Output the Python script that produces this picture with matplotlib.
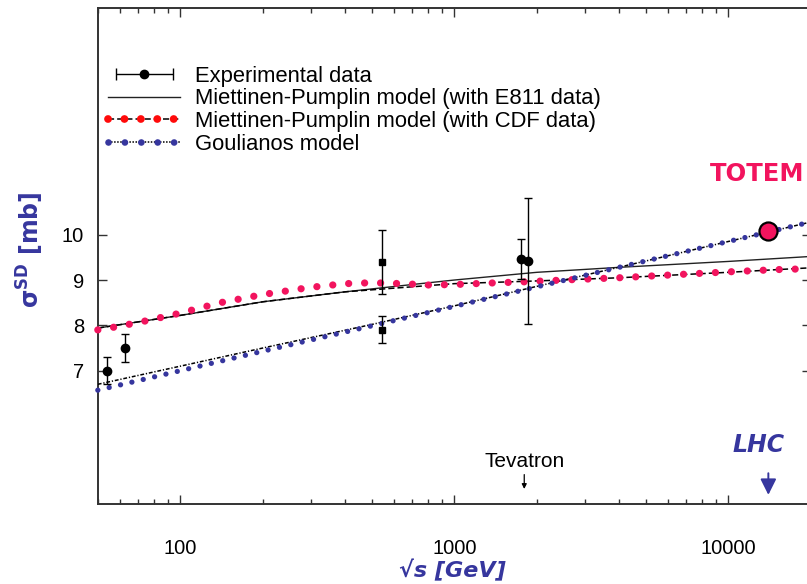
import numpy as np
import matplotlib.pyplot as plt
from matplotlib.lines import Line2D
from matplotlib.container import ErrorbarContainer
from matplotlib.legend_handler import HandlerErrorbar
from matplotlib.ticker import LogLocator, NullFormatter, NullLocator

plt.rcParams['font.family'] = ['Liberation Sans', 'DejaVu Sans']

# experimental single diffractive cross sections
exp_sqrts = [54, 63, 546, 546, 1750, 1860]
exp_sigma = [7.0, 7.5, 7.9, 9.4, 9.46, 9.42]
exp_err = [0.3, 0.3, 0.3, 0.7, 0.44, 1.4]
exp_marker = ['o', 'o', 's', 's', 'o', 'o']

totem_sqrts = [14000]
totem_sigma = [10.08]

# Miettinen-Pumplin model, E811 normalisation (solid line)
mp_e811_sqrts = [50, 100, 200, 400, 700, 1000, 2000, 4000, 10000, 20000]
mp_e811_sigma = [7.94, 8.22, 8.52, 8.74, 8.90, 9.00, 9.17, 9.28, 9.41, 9.52]

# Miettinen-Pumplin model, CDF normalisation (dashed line + dots)
mp_cdf_sqrts = [50, 100, 200, 400, 700, 1000, 2000, 4000, 10000, 20000]
mp_cdf_sigma = [7.94, 8.22, 8.52, 8.74, 8.85, 8.92, 8.98, 9.05, 9.17, 9.27]
cdf_dots_sqrts = [50, 60, 75, 100, 140, 200, 300, 400, 500, 650, 800, 1000,
                  1300, 1800, 2500, 4000, 7000, 10000, 15000, 20000]
cdf_dots_sigma = [7.90, 7.98, 8.10, 8.27, 8.50, 8.68, 8.84, 8.92, 8.94, 8.92,
                  8.89, 8.90, 8.93, 8.96, 9.00, 9.05, 9.13, 9.18, 9.23, 9.25]

# Goulianos model (dotted line + dots)
goul_sqrts = [50, 100, 200, 500, 1000, 2000, 5000, 10000, 20000]
goul_line_sigma = [6.70, 7.10, 7.50, 8.02, 8.43, 8.86, 9.42, 9.85, 10.28]
goul_dots_sigma = [6.57, 7.00, 7.43, 7.99, 8.42, 8.85, 9.42, 9.85, 10.28]

pink = '#F2145E'
blue = '#36369E'
dot_pink = dict(lw=5.2, ls=(0, (0.01, 2.2)), dash_capstyle='round')
dot_blue = dict(lw=3.8, ls=(0, (0.01, 2.2)), dash_capstyle='round')
leg_pink = dict(lw=5.6, ls=(0, (0.01, 2.1)), dash_capstyle='round')
leg_blue = dict(lw=4.8, ls=(0, (0.01, 2.45)), dash_capstyle='round')
dash_k = (0, (4, 2))
dotted_k = (0, (2.5, 1.2, 0.8, 1.2))

fig = plt.figure(figsize=(8.07, 5.84), dpi=100)
ax = fig.add_axes([0.1212, 0.137, 0.8835, 0.8493])

ax.plot(mp_e811_sqrts, mp_e811_sigma, color='#222222', lw=1.0, zorder=3)
ax.plot(mp_cdf_sqrts, mp_cdf_sigma, color='black', lw=1.1, ls=dash_k, zorder=3)
ax.plot(goul_sqrts, goul_line_sigma, color='black', lw=1.1, ls=dotted_k, zorder=3)
ax.plot(cdf_dots_sqrts, cdf_dots_sigma, color=pink, clip_on=False, zorder=4, **dot_pink)
ax.plot(goul_sqrts, goul_dots_sigma, color=blue, clip_on=False, zorder=5, **dot_blue)

for s, sig, e, m in zip(exp_sqrts, exp_sigma, exp_err, exp_marker):
    ax.errorbar([s], [sig], yerr=[e], fmt=m, color='black',
                ms=6 if m == 'o' else 5, capsize=3, elinewidth=1, zorder=6)

ax.plot(totem_sqrts, totem_sigma, 'o', ms=13, mfc=pink, mec='black', mew=1.6, zorder=7)

ax.set_xscale('log')
ax.set_xlim(50, 20000)
ax.set_ylim(4.06, 15.0)
ax.set_xticks([100, 1000, 10000], labels=['100', '1000', '10000'])
ax.xaxis.set_minor_locator(LogLocator(base=10, subs=np.arange(2, 10)))
ax.xaxis.set_minor_formatter(NullFormatter())
ax.set_yticks([7, 8, 9, 10], labels=['7', '8', '9', '10'])
ax.yaxis.set_minor_locator(NullLocator())
ax.tick_params(which='both', direction='in', top=True, right=True,
               color='#333333', width=1)
ax.tick_params(which='major', length=6.5, labelsize=14.5)
ax.tick_params(which='minor', length=3.6)
ax.tick_params(axis='x', pad=25)
ax.tick_params(axis='y', pad=10)
for sp in ax.spines.values():
    sp.set_color('#333333')
    sp.set_linewidth(1.4)

ax.set_xlabel('√s [GeV]', color=blue, fontsize=16, fontweight='bold',
              style='italic', family='DejaVu Sans')
ax.xaxis.set_label_coords(0.4976, -0.133)
ax.xaxis.label.set_va('center')
ax.set_ylabel(r'σ$^{\mathbf{SD}}$ [mb]', color=blue, fontsize=17,
              fontweight='bold', family='DejaVu Sans')
ax.yaxis.set_label_coords(-0.095, 0.512)
ax.yaxis.label.set_va('center')

ax.text(12700, 11.33, 'TOTEM', color=pink, fontsize=17.5, fontweight='bold',
        family='DejaVu Sans', ha='center', va='center')
ax.text(12850, 5.37, 'LHC', color=blue, fontsize=17, fontweight='bold',
        style='italic', family='DejaVu Sans', ha='center', va='center')
ax.annotate('', xy=(14000, 4.2), xytext=(14000, 4.8),
            arrowprops=dict(arrowstyle='-|>', color=blue, lw=1.4, mutation_scale=24))
ax.text(1800, 4.99, 'Tevatron', fontsize=15, ha='center', va='center')
ax.annotate('', xy=(1800, 4.33), xytext=(1800, 4.77),
            arrowprops=dict(arrowstyle='-|>', color='black', lw=0.9, mutation_scale=7))

# legend proxies
eb_proxy = ax.errorbar([np.nan], [np.nan], xerr=[1], fmt='o', color='black',
                       ms=6, capsize=4, elinewidth=1)
h_e811 = Line2D([], [], color='#222222', lw=1.0)
h_cdf = (Line2D([], [], color='black', lw=1.1, ls=dash_k),
         Line2D([], [], color='#FF0A0A', **leg_pink))
h_goul = (Line2D([], [], color='black', lw=1.1, ls=(0, (1, 1))),
          Line2D([], [], color=blue, **leg_blue))
ax.legend([eb_proxy, h_e811, h_cdf, h_goul],
          ['Experimental data',
           'Miettinen-Pumplin model (with E811 data)',
           'Miettinen-Pumplin model (with CDF data)',
           'Goulianos model'],
          handler_map={ErrorbarContainer: HandlerErrorbar(xerr_size=1.3, numpoints=1)},
          loc='upper left', bbox_to_anchor=(0.0143, 0.884), frameon=False,
          borderpad=0, borderaxespad=0, fontsize=15.8, labelspacing=0.08,
          handlelength=3.3, handletextpad=0.65, numpoints=1)

fig.savefig('out.png', dpi=100)
